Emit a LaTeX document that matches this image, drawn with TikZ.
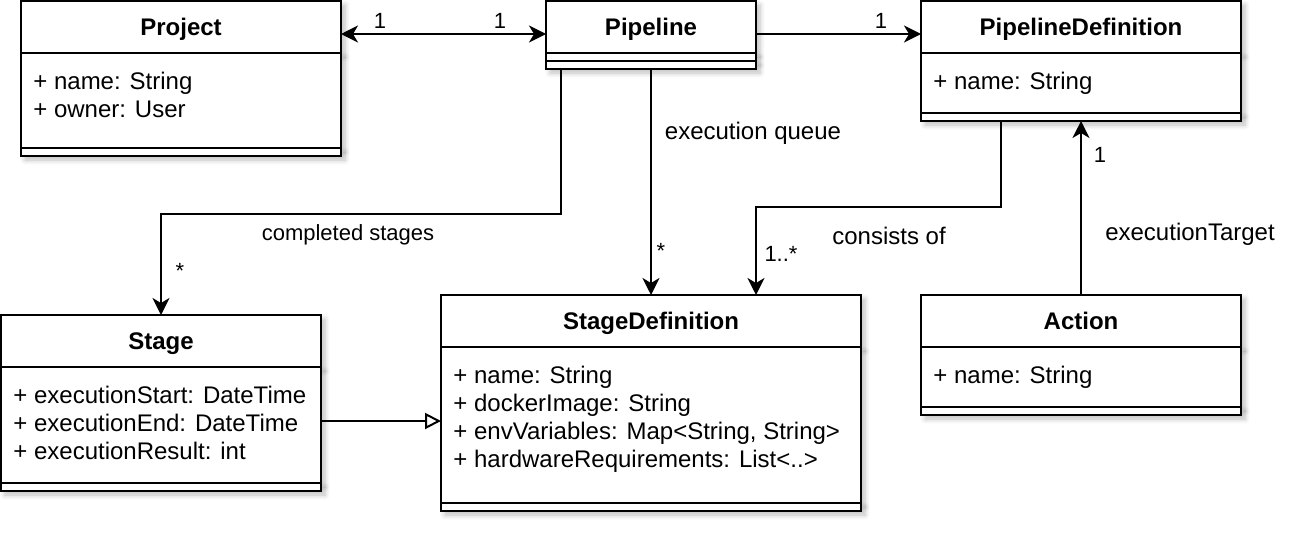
\documentclass[tikz,border=0pt]{standalone}
\usepackage{fontspec}
\setmainfont{Liberation Sans}
\usetikzlibrary{arrows.meta, positioning, shadows.blur}

\begin{document}
\begin{tikzpicture}[
			x=0.5pt, y=-0.5pt,
			every node/.style={font=\fontsize{12}{14}\selectfont},
			boxshadow/.style={blur shadow={shadow xshift=2pt, shadow yshift=-2pt, shadow blur radius=2.5pt, shadow blur steps=6, shadow opacity=25}},
			classhead/.style={draw, line width=1pt, fill=white, outer sep=0pt, inner sep=0pt, minimum width=#1, minimum height=26pt, text height=8.6pt, text depth=0pt, font=\fontsize{12}{14}\selectfont\bfseries, boxshadow},
			classbody/.style 2 args={draw, line width=1pt, fill=white, outer sep=0pt, inner sep=0pt, minimum width=#1, minimum height=#2, boxshadow},
			attrs/.style={anchor=north west, align=left, inner xsep=6pt, inner ysep=9.5pt},
			edgelabel/.style={fill=white, inner sep=1pt},
			mult/.style={inner sep=0pt, font=\fontsize{11}{13}\selectfont},
			assoc/.style={line width=1pt, -{Stealth[length=8.5pt, width=8.5pt, inset=2.5pt]}},
			both/.style={line width=1pt, {Stealth[length=8.5pt, width=8.5pt, inset=2.5pt]}-{Stealth[length=8.5pt, width=8.5pt, inset=2.5pt]}},
			inherit/.style={line width=1pt, -{Triangle[open, length=8pt, width=8pt, fill=white]}},
			label distance=0pt
			]
			\useasboundingbox (0,0) rectangle (1300,536);
			
			% Nodes
			\node (project) [classhead=160pt] at (181,27) {Project};
			\node (project_attr) [classbody={160pt}{47.5pt}, below=0pt of project, label={[attrs]north west:{+ name: String\\+ owner: User}}] {};
			\node (project_ops) [classbody={160pt}{4pt}, below=0pt of project_attr] {};
			
			\node (pipeline) [classhead=105pt, right=102.5pt of project] {Pipeline};
			\node (pipeline_attr) [classbody={105pt}{4pt}, below=0pt of pipeline] {};
			\node (pipeline_ops) [classbody={105pt}{4pt}, below=0pt of pipeline_attr] {};
			
			\node (pipedef) [classhead=160pt, right=82.5pt of pipeline] {PipelineDefinition};
			\node (pipedef_attr) [classbody={160pt}{30pt}, below=0pt of pipedef, label={[attrs]north west:{+ name: String}}] {};
			\node (pipedef_ops) [classbody={160pt}{4pt}, below=0pt of pipedef_attr] {};
			
			\node (stagedef) [classhead=210pt, below=113pt of pipeline_ops] {StageDefinition};
			\node (stagedef_attr) [classbody={210pt}{78pt}, below=0pt of stagedef, label={[attrs]north west:{+ name: String\\+ dockerImage: String\\+ envVariables: Map<String, String>\\+ hardwareRequirements: List<..>}}] {};
			\node (stagedef_ops) [classbody={210pt}{4pt}, below=0pt of stagedef_attr] {};
			
			\node (stage) [classhead=160pt] at (161,341) {Stage};
			\node (stage_attr) [classbody={160pt}{58pt}, below=0pt of stage, label={[attrs]north west:{+ executionStart: DateTime\\+ executionEnd: DateTime\\+ executionResult: int}}] {};
			\node (stage_ops) [classbody={160pt}{4pt}, below=0pt of stage_attr] {};
			
			\node (action) [classhead=160pt, below=87pt of pipedef_ops] {Action};
			\node (action_attr) [classbody={160pt}{30pt}, below=0pt of action, label={[attrs]north west:{+ name: String}}] {};
			\node (action_ops) [classbody={160pt}{4pt}, below=0pt of action_attr] {};
			
			% Labels
			\node (mult_project) [mult] at (380,21) {1};
			\node (mult_pipeline) [mult] at (500,21) {1};
			\node (mult_pipedef) [mult] at (881,21) {1};
			\node (lbl_completed) [edgelabel, font=\fontsize{11}{13}\selectfont] at (348,235) {completed stages};
			\node (mult_stage) [mult] at (180,271) {*};
			\node (lbl_queue) [edgelabel] at (753,133) {execution queue};
			\node (mult_queue) [mult] at (661,251) {*};
			\node (lbl_consists) [edgelabel] at (889,236) {consists of};
			\node (mult_consists) [mult] at (781,254) {1..*};
			\node (lbl_target) [edgelabel] at (1190,234) {executionTarget};
			\node (mult_target) [mult] at (1100,155) {1};
			
			% Connections
			\draw [both] ([yshift=-3.5pt]project.east) -- ([yshift=-3.5pt]pipeline.west);
			\draw [assoc] ([yshift=-3.5pt]pipeline.east) -- ([yshift=-3.5pt]pipedef.west);
			\draw [assoc] ([xshift=7.5pt]pipeline_ops.south west) -- ++(0,145) -| (stage.north);
			\draw [assoc] (pipeline_ops.south) -- (stagedef.north);
			\draw [assoc] ([xshift=40pt]pipedef_ops.south west) -- ++(0,86) -| ([xshift=157.5pt]stagedef.north west);
			\draw [assoc] (action.north) -- (pipedef_ops.south);
			\draw [inherit] ([yshift=2pt]stage_attr.east) -- ([yshift=2pt]stage_attr.east -| stagedef_attr.west);
			
		\end{tikzpicture}
\end{document}
